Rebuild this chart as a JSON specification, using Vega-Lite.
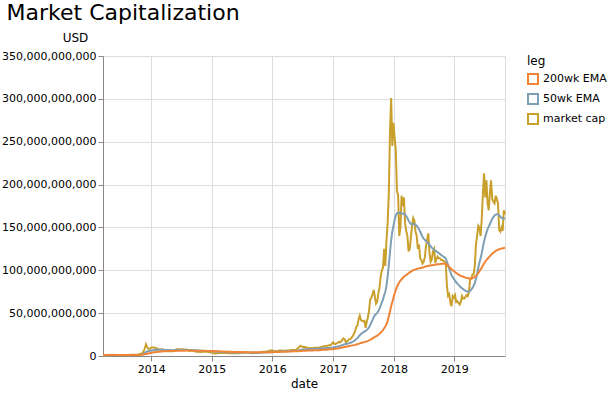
{
  "$schema": "https://vega.github.io/schema/vega-lite/v6.json",
  "width": 402,
  "height": 300,
  "padding": {"left": 1, "top": 2, "right": 5, "bottom": 5},
  "title": {"text": "Market Capitalization", "anchor": "start", "fontSize": 22, "fontWeight": "normal", "color": "#000", "offset": 6, "dx": 5},
  "config": {
    "font": "DejaVu Sans",
    "axis": {"labelFontSize": 11, "titleFontSize": 12, "titleFontWeight": "normal", "labelColor": "#000", "titleColor": "#000"},
    "legend": {"labelFontSize": 11, "titleFontSize": 12, "titleFontWeight": "normal", "labelColor": "#000", "titleColor": "#000"}
  },
  "data": {"values": [
    {"date":"2013-03-17","market cap":0.8,"50wk EMA":1.0,"200wk EMA":1.1},
    {"date":"2013-03-31","market cap":1.0,"50wk EMA":1.0,"200wk EMA":1.1},
    {"date":"2013-04-14","market cap":1.1,"50wk EMA":1.05,"200wk EMA":1.1},
    {"date":"2013-04-28","market cap":1.5,"50wk EMA":1.1,"200wk EMA":1.1},
    {"date":"2013-05-12","market cap":1.3,"50wk EMA":1.15,"200wk EMA":1.1},
    {"date":"2013-05-26","market cap":1.4,"50wk EMA":1.2,"200wk EMA":1.15},
    {"date":"2013-06-09","market cap":1.2,"50wk EMA":1.2,"200wk EMA":1.15},
    {"date":"2013-06-23","market cap":1.1,"50wk EMA":1.2,"200wk EMA":1.15},
    {"date":"2013-07-07","market cap":0.8,"50wk EMA":1.15,"200wk EMA":1.15},
    {"date":"2013-07-21","market cap":1.0,"50wk EMA":1.1,"200wk EMA":1.15},
    {"date":"2013-08-04","market cap":1.1,"50wk EMA":1.1,"200wk EMA":1.15},
    {"date":"2013-08-18","market cap":1.2,"50wk EMA":1.1,"200wk EMA":1.15},
    {"date":"2013-09-01","market cap":1.5,"50wk EMA":1.15,"200wk EMA":1.15},
    {"date":"2013-09-15","market cap":1.5,"50wk EMA":1.2,"200wk EMA":1.2},
    {"date":"2013-09-29","market cap":1.5,"50wk EMA":1.25,"200wk EMA":1.2},
    {"date":"2013-10-13","market cap":1.7,"50wk EMA":1.3,"200wk EMA":1.2},
    {"date":"2013-10-27","market cap":2.3,"50wk EMA":1.45,"200wk EMA":1.3},
    {"date":"2013-11-03","market cap":2.6,"50wk EMA":1.6,"200wk EMA":1.35},
    {"date":"2013-11-10","market cap":3.8,"50wk EMA":1.9,"200wk EMA":1.45},
    {"date":"2013-11-17","market cap":5.5,"50wk EMA":2.4,"200wk EMA":1.6},
    {"date":"2013-11-24","market cap":9.0,"50wk EMA":3.3,"200wk EMA":1.9},
    {"date":"2013-12-01","market cap":13.5,"50wk EMA":4.5,"200wk EMA":2.3},
    {"date":"2013-12-08","market cap":10.5,"50wk EMA":5.2,"200wk EMA":2.6},
    {"date":"2013-12-15","market cap":8.5,"50wk EMA":5.6,"200wk EMA":2.9},
    {"date":"2013-12-22","market cap":8.0,"50wk EMA":5.9,"200wk EMA":3.2},
    {"date":"2013-12-29","market cap":9.2,"50wk EMA":6.2,"200wk EMA":3.5},
    {"date":"2014-01-05","market cap":10.0,"50wk EMA":6.5,"200wk EMA":3.8},
    {"date":"2014-01-19","market cap":10.0,"50wk EMA":7.0,"200wk EMA":4.3},
    {"date":"2014-02-02","market cap":9.0,"50wk EMA":7.2,"200wk EMA":4.7},
    {"date":"2014-02-16","market cap":7.5,"50wk EMA":7.2,"200wk EMA":5.0},
    {"date":"2014-03-02","market cap":7.5,"50wk EMA":7.2,"200wk EMA":5.3},
    {"date":"2014-03-16","market cap":7.5,"50wk EMA":7.2,"200wk EMA":5.5},
    {"date":"2014-03-30","market cap":6.0,"50wk EMA":7.1,"200wk EMA":5.6},
    {"date":"2014-04-13","market cap":5.5,"50wk EMA":7.0,"200wk EMA":5.7},
    {"date":"2014-04-27","market cap":5.8,"50wk EMA":6.9,"200wk EMA":5.8},
    {"date":"2014-05-11","market cap":5.5,"50wk EMA":6.8,"200wk EMA":5.8},
    {"date":"2014-05-25","market cap":7.2,"50wk EMA":6.8,"200wk EMA":5.9},
    {"date":"2014-06-08","market cap":8.0,"50wk EMA":6.9,"200wk EMA":6.0},
    {"date":"2014-06-22","market cap":7.5,"50wk EMA":7.0,"200wk EMA":6.1},
    {"date":"2014-07-06","market cap":8.0,"50wk EMA":7.1,"200wk EMA":6.2},
    {"date":"2014-07-20","market cap":7.5,"50wk EMA":7.1,"200wk EMA":6.2},
    {"date":"2014-08-03","market cap":7.5,"50wk EMA":7.1,"200wk EMA":6.3},
    {"date":"2014-08-17","market cap":6.0,"50wk EMA":7.0,"200wk EMA":6.3},
    {"date":"2014-08-31","market cap":6.3,"50wk EMA":6.9,"200wk EMA":6.3},
    {"date":"2014-09-14","market cap":6.0,"50wk EMA":6.8,"200wk EMA":6.3},
    {"date":"2014-09-28","market cap":5.0,"50wk EMA":6.6,"200wk EMA":6.2},
    {"date":"2014-10-12","market cap":5.0,"50wk EMA":6.4,"200wk EMA":6.2},
    {"date":"2014-10-26","market cap":4.8,"50wk EMA":6.2,"200wk EMA":6.1},
    {"date":"2014-11-09","market cap":4.9,"50wk EMA":6.0,"200wk EMA":6.0},
    {"date":"2014-11-23","market cap":5.3,"50wk EMA":5.9,"200wk EMA":6.0},
    {"date":"2014-12-07","market cap":5.0,"50wk EMA":5.7,"200wk EMA":5.9},
    {"date":"2014-12-21","market cap":4.4,"50wk EMA":5.6,"200wk EMA":5.8},
    {"date":"2015-01-04","market cap":3.8,"50wk EMA":5.4,"200wk EMA":5.7},
    {"date":"2015-01-18","market cap":2.9,"50wk EMA":5.2,"200wk EMA":5.6},
    {"date":"2015-02-01","market cap":3.2,"50wk EMA":5.0,"200wk EMA":5.5},
    {"date":"2015-02-15","market cap":3.4,"50wk EMA":4.8,"200wk EMA":5.4},
    {"date":"2015-03-01","market cap":3.6,"50wk EMA":4.7,"200wk EMA":5.3},
    {"date":"2015-03-15","market cap":3.9,"50wk EMA":4.6,"200wk EMA":5.2},
    {"date":"2015-03-29","market cap":3.4,"50wk EMA":4.5,"200wk EMA":5.1},
    {"date":"2015-04-12","market cap":3.3,"50wk EMA":4.4,"200wk EMA":5.0},
    {"date":"2015-04-26","market cap":3.2,"50wk EMA":4.3,"200wk EMA":4.9},
    {"date":"2015-05-10","market cap":3.4,"50wk EMA":4.2,"200wk EMA":4.8},
    {"date":"2015-05-24","market cap":3.3,"50wk EMA":4.1,"200wk EMA":4.8},
    {"date":"2015-06-07","market cap":3.2,"50wk EMA":4.0,"200wk EMA":4.7},
    {"date":"2015-06-21","market cap":3.5,"50wk EMA":4.0,"200wk EMA":4.6},
    {"date":"2015-07-05","market cap":3.8,"50wk EMA":4.0,"200wk EMA":4.6},
    {"date":"2015-07-19","market cap":4.2,"50wk EMA":4.0,"200wk EMA":4.5},
    {"date":"2015-08-02","market cap":4.2,"50wk EMA":4.0,"200wk EMA":4.5},
    {"date":"2015-08-16","market cap":3.7,"50wk EMA":4.0,"200wk EMA":4.4},
    {"date":"2015-08-30","market cap":3.3,"50wk EMA":3.9,"200wk EMA":4.4},
    {"date":"2015-09-13","market cap":3.4,"50wk EMA":3.9,"200wk EMA":4.3},
    {"date":"2015-09-27","market cap":3.5,"50wk EMA":3.9,"200wk EMA":4.3},
    {"date":"2015-10-11","market cap":3.7,"50wk EMA":3.9,"200wk EMA":4.3},
    {"date":"2015-10-25","market cap":4.3,"50wk EMA":3.9,"200wk EMA":4.3},
    {"date":"2015-11-08","market cap":5.0,"50wk EMA":4.0,"200wk EMA":4.3},
    {"date":"2015-11-22","market cap":4.9,"50wk EMA":4.1,"200wk EMA":4.3},
    {"date":"2015-12-06","market cap":5.6,"50wk EMA":4.3,"200wk EMA":4.4},
    {"date":"2015-12-20","market cap":6.5,"50wk EMA":4.5,"200wk EMA":4.4},
    {"date":"2016-01-03","market cap":6.5,"50wk EMA":4.8,"200wk EMA":4.5},
    {"date":"2016-01-17","market cap":5.6,"50wk EMA":5.0,"200wk EMA":4.6},
    {"date":"2016-01-31","market cap":5.7,"50wk EMA":5.1,"200wk EMA":4.7},
    {"date":"2016-02-14","market cap":6.4,"50wk EMA":5.3,"200wk EMA":4.8},
    {"date":"2016-02-28","market cap":6.3,"50wk EMA":5.4,"200wk EMA":4.9},
    {"date":"2016-03-13","market cap":6.2,"50wk EMA":5.5,"200wk EMA":5.0},
    {"date":"2016-03-27","market cap":6.3,"50wk EMA":5.6,"200wk EMA":5.1},
    {"date":"2016-04-10","market cap":6.5,"50wk EMA":5.7,"200wk EMA":5.2},
    {"date":"2016-04-24","market cap":7.0,"50wk EMA":5.9,"200wk EMA":5.3},
    {"date":"2016-05-08","market cap":7.0,"50wk EMA":6.0,"200wk EMA":5.4},
    {"date":"2016-05-22","market cap":7.2,"50wk EMA":6.2,"200wk EMA":5.5},
    {"date":"2016-06-05","market cap":9.3,"50wk EMA":6.5,"200wk EMA":5.6},
    {"date":"2016-06-19","market cap":12.0,"50wk EMA":7.1,"200wk EMA":5.8},
    {"date":"2016-07-03","market cap":10.5,"50wk EMA":7.5,"200wk EMA":6.0},
    {"date":"2016-07-17","market cap":10.5,"50wk EMA":7.8,"200wk EMA":6.1},
    {"date":"2016-07-31","market cap":9.7,"50wk EMA":8.0,"200wk EMA":6.3},
    {"date":"2016-08-14","market cap":9.2,"50wk EMA":8.1,"200wk EMA":6.4},
    {"date":"2016-08-28","market cap":9.2,"50wk EMA":8.2,"200wk EMA":6.5},
    {"date":"2016-09-11","market cap":9.7,"50wk EMA":8.4,"200wk EMA":6.6},
    {"date":"2016-09-25","market cap":9.6,"50wk EMA":8.5,"200wk EMA":6.7},
    {"date":"2016-10-09","market cap":10.0,"50wk EMA":8.6,"200wk EMA":6.8},
    {"date":"2016-10-23","market cap":10.5,"50wk EMA":8.8,"200wk EMA":7.0},
    {"date":"2016-11-06","market cap":11.5,"50wk EMA":9.0,"200wk EMA":7.2},
    {"date":"2016-11-20","market cap":11.6,"50wk EMA":9.2,"200wk EMA":7.4},
    {"date":"2016-12-04","market cap":12.2,"50wk EMA":9.4,"200wk EMA":7.6},
    {"date":"2016-12-18","market cap":12.8,"50wk EMA":9.6,"200wk EMA":7.8},
    {"date":"2017-01-01","market cap":16.0,"50wk EMA":9.9,"200wk EMA":8.0},
    {"date":"2017-01-08","market cap":14.5,"50wk EMA":10.2,"200wk EMA":8.2},
    {"date":"2017-01-15","market cap":13.8,"50wk EMA":10.5,"200wk EMA":8.4},
    {"date":"2017-01-22","market cap":14.8,"50wk EMA":10.8,"200wk EMA":8.6},
    {"date":"2017-01-29","market cap":15.2,"50wk EMA":11.1,"200wk EMA":8.8},
    {"date":"2017-02-05","market cap":16.5,"50wk EMA":11.4,"200wk EMA":9.1},
    {"date":"2017-02-12","market cap":16.0,"50wk EMA":11.8,"200wk EMA":9.4},
    {"date":"2017-02-19","market cap":17.0,"50wk EMA":12.2,"200wk EMA":9.7},
    {"date":"2017-02-26","market cap":19.0,"50wk EMA":12.7,"200wk EMA":10.0},
    {"date":"2017-03-05","market cap":20.5,"50wk EMA":13.2,"200wk EMA":10.3},
    {"date":"2017-03-12","market cap":19.5,"50wk EMA":13.6,"200wk EMA":10.6},
    {"date":"2017-03-19","market cap":16.0,"50wk EMA":13.9,"200wk EMA":10.9},
    {"date":"2017-03-26","market cap":17.0,"50wk EMA":14.2,"200wk EMA":11.1},
    {"date":"2017-04-02","market cap":18.5,"50wk EMA":14.6,"200wk EMA":11.4},
    {"date":"2017-04-09","market cap":19.5,"50wk EMA":15.0,"200wk EMA":11.6},
    {"date":"2017-04-16","market cap":19.8,"50wk EMA":15.5,"200wk EMA":11.9},
    {"date":"2017-04-23","market cap":21.5,"50wk EMA":16.0,"200wk EMA":12.1},
    {"date":"2017-04-30","market cap":23.5,"50wk EMA":16.7,"200wk EMA":12.4},
    {"date":"2017-05-07","market cap":26.0,"50wk EMA":17.5,"200wk EMA":12.7},
    {"date":"2017-05-14","market cap":29.0,"50wk EMA":18.5,"200wk EMA":13.0},
    {"date":"2017-05-21","market cap":34.0,"50wk EMA":19.7,"200wk EMA":13.4},
    {"date":"2017-05-28","market cap":35.5,"50wk EMA":21.0,"200wk EMA":13.8},
    {"date":"2017-06-04","market cap":43.0,"50wk EMA":22.5,"200wk EMA":14.2},
    {"date":"2017-06-11","market cap":47.0,"50wk EMA":24.2,"200wk EMA":14.7},
    {"date":"2017-06-18","market cap":42.0,"50wk EMA":25.6,"200wk EMA":15.1},
    {"date":"2017-06-25","market cap":41.0,"50wk EMA":26.7,"200wk EMA":15.5},
    {"date":"2017-07-02","market cap":40.5,"50wk EMA":27.7,"200wk EMA":15.9},
    {"date":"2017-07-09","market cap":41.0,"50wk EMA":28.6,"200wk EMA":16.3},
    {"date":"2017-07-16","market cap":33.0,"50wk EMA":29.2,"200wk EMA":16.7},
    {"date":"2017-07-23","market cap":40.0,"50wk EMA":30.3,"200wk EMA":17.1},
    {"date":"2017-07-30","market cap":45.0,"50wk EMA":31.6,"200wk EMA":17.6},
    {"date":"2017-08-06","market cap":53.0,"50wk EMA":33.5,"200wk EMA":18.2},
    {"date":"2017-08-13","market cap":66.0,"50wk EMA":36.3,"200wk EMA":18.9},
    {"date":"2017-08-20","market cap":68.0,"50wk EMA":39.2,"200wk EMA":19.7},
    {"date":"2017-08-27","market cap":72.0,"50wk EMA":42.2,"200wk EMA":20.5},
    {"date":"2017-09-03","market cap":77.0,"50wk EMA":45.4,"200wk EMA":21.4},
    {"date":"2017-09-10","market cap":69.0,"50wk EMA":47.6,"200wk EMA":22.2},
    {"date":"2017-09-17","market cap":61.0,"50wk EMA":48.9,"200wk EMA":23.0},
    {"date":"2017-09-24","market cap":63.0,"50wk EMA":50.3,"200wk EMA":23.8},
    {"date":"2017-10-01","market cap":73.0,"50wk EMA":52.5,"200wk EMA":24.8},
    {"date":"2017-10-08","market cap":80.0,"50wk EMA":55.2,"200wk EMA":25.9},
    {"date":"2017-10-15","market cap":93.0,"50wk EMA":58.8,"200wk EMA":27.2},
    {"date":"2017-10-22","market cap":100.0,"50wk EMA":62.5,"200wk EMA":28.7},
    {"date":"2017-10-29","market cap":103.0,"50wk EMA":66.0,"200wk EMA":30.3},
    {"date":"2017-11-05","market cap":125.0,"50wk EMA":71.0,"200wk EMA":32.3},
    {"date":"2017-11-12","market cap":105.0,"50wk EMA":75.0,"200wk EMA":34.3},
    {"date":"2017-11-19","market cap":135.0,"50wk EMA":82.0,"200wk EMA":37.0},
    {"date":"2017-11-26","market cap":155.0,"50wk EMA":93.0,"200wk EMA":41.0},
    {"date":"2017-12-03","market cap":190.0,"50wk EMA":106.0,"200wk EMA":46.0},
    {"date":"2017-12-10","market cap":260.0,"50wk EMA":121.0,"200wk EMA":52.0},
    {"date":"2017-12-17","market cap":301.0,"50wk EMA":135.0,"200wk EMA":58.0},
    {"date":"2017-12-24","market cap":245.0,"50wk EMA":145.0,"200wk EMA":63.0},
    {"date":"2017-12-31","market cap":272.0,"50wk EMA":152.0,"200wk EMA":68.0},
    {"date":"2018-01-07","market cap":255.0,"50wk EMA":159.0,"200wk EMA":73.0},
    {"date":"2018-01-14","market cap":240.0,"50wk EMA":164.0,"200wk EMA":77.0},
    {"date":"2018-01-21","market cap":192.0,"50wk EMA":166.5,"200wk EMA":80.5},
    {"date":"2018-01-28","market cap":188.0,"50wk EMA":167.0,"200wk EMA":83.5},
    {"date":"2018-02-04","market cap":140.0,"50wk EMA":167.0,"200wk EMA":86.0},
    {"date":"2018-02-11","market cap":150.0,"50wk EMA":166.5,"200wk EMA":88.0},
    {"date":"2018-02-18","market cap":187.0,"50wk EMA":166.5,"200wk EMA":89.5},
    {"date":"2018-02-25","market cap":175.0,"50wk EMA":166.0,"200wk EMA":91.0},
    {"date":"2018-03-04","market cap":185.0,"50wk EMA":166.0,"200wk EMA":92.5},
    {"date":"2018-03-11","market cap":155.0,"50wk EMA":165.0,"200wk EMA":93.5},
    {"date":"2018-03-18","market cap":146.0,"50wk EMA":163.0,"200wk EMA":94.5},
    {"date":"2018-03-25","market cap":140.0,"50wk EMA":161.0,"200wk EMA":95.5},
    {"date":"2018-04-01","market cap":122.0,"50wk EMA":158.0,"200wk EMA":96.5},
    {"date":"2018-04-08","market cap":125.0,"50wk EMA":155.5,"200wk EMA":97.5},
    {"date":"2018-04-15","market cap":138.0,"50wk EMA":154.0,"200wk EMA":98.5},
    {"date":"2018-04-22","market cap":152.0,"50wk EMA":153.5,"200wk EMA":99.5},
    {"date":"2018-04-29","market cap":161.0,"50wk EMA":154.0,"200wk EMA":100.0},
    {"date":"2018-05-06","market cap":158.0,"50wk EMA":154.0,"200wk EMA":100.5},
    {"date":"2018-05-13","market cap":145.0,"50wk EMA":153.0,"200wk EMA":101.0},
    {"date":"2018-05-20","market cap":140.0,"50wk EMA":152.0,"200wk EMA":101.5},
    {"date":"2018-05-27","market cap":125.0,"50wk EMA":150.0,"200wk EMA":102.0},
    {"date":"2018-06-03","market cap":130.0,"50wk EMA":148.0,"200wk EMA":102.5},
    {"date":"2018-06-10","market cap":114.0,"50wk EMA":145.0,"200wk EMA":102.5},
    {"date":"2018-06-17","market cap":112.0,"50wk EMA":142.0,"200wk EMA":103.0},
    {"date":"2018-06-24","market cap":108.0,"50wk EMA":139.0,"200wk EMA":103.0},
    {"date":"2018-07-01","market cap":110.0,"50wk EMA":137.0,"200wk EMA":103.5},
    {"date":"2018-07-08","market cap":115.0,"50wk EMA":135.5,"200wk EMA":104.0},
    {"date":"2018-07-15","market cap":128.0,"50wk EMA":134.0,"200wk EMA":104.5},
    {"date":"2018-07-22","market cap":136.0,"50wk EMA":132.5,"200wk EMA":105.0},
    {"date":"2018-07-29","market cap":143.0,"50wk EMA":131.5,"200wk EMA":105.0},
    {"date":"2018-08-05","market cap":120.0,"50wk EMA":130.0,"200wk EMA":105.5},
    {"date":"2018-08-12","market cap":110.0,"50wk EMA":128.0,"200wk EMA":105.5},
    {"date":"2018-08-19","market cap":113.0,"50wk EMA":126.5,"200wk EMA":106.0},
    {"date":"2018-08-26","market cap":122.0,"50wk EMA":125.0,"200wk EMA":106.0},
    {"date":"2018-09-02","market cap":125.0,"50wk EMA":124.0,"200wk EMA":106.5},
    {"date":"2018-09-09","market cap":109.0,"50wk EMA":123.0,"200wk EMA":106.5},
    {"date":"2018-09-16","market cap":113.0,"50wk EMA":122.0,"200wk EMA":107.0},
    {"date":"2018-09-23","market cap":116.0,"50wk EMA":121.0,"200wk EMA":107.0},
    {"date":"2018-09-30","market cap":114.0,"50wk EMA":120.0,"200wk EMA":107.0},
    {"date":"2018-10-07","market cap":114.0,"50wk EMA":119.0,"200wk EMA":107.0},
    {"date":"2018-10-14","market cap":112.0,"50wk EMA":118.0,"200wk EMA":107.5},
    {"date":"2018-10-21","market cap":112.0,"50wk EMA":117.0,"200wk EMA":107.5},
    {"date":"2018-10-28","market cap":111.0,"50wk EMA":116.0,"200wk EMA":107.5},
    {"date":"2018-11-04","market cap":110.0,"50wk EMA":115.0,"200wk EMA":107.5},
    {"date":"2018-11-11","market cap":108.0,"50wk EMA":114.0,"200wk EMA":107.5},
    {"date":"2018-11-18","market cap":82.0,"50wk EMA":110.0,"200wk EMA":106.5},
    {"date":"2018-11-25","market cap":70.0,"50wk EMA":106.0,"200wk EMA":105.0},
    {"date":"2018-12-02","market cap":72.0,"50wk EMA":102.0,"200wk EMA":104.0},
    {"date":"2018-12-09","market cap":62.0,"50wk EMA":98.0,"200wk EMA":102.5},
    {"date":"2018-12-16","market cap":58.0,"50wk EMA":94.0,"200wk EMA":101.0},
    {"date":"2018-12-23","market cap":70.0,"50wk EMA":92.0,"200wk EMA":100.0},
    {"date":"2018-12-30","market cap":68.0,"50wk EMA":90.0,"200wk EMA":99.0},
    {"date":"2019-01-06","market cap":71.0,"50wk EMA":88.0,"200wk EMA":98.0},
    {"date":"2019-01-13","market cap":63.0,"50wk EMA":86.0,"200wk EMA":97.0},
    {"date":"2019-01-20","market cap":64.0,"50wk EMA":84.5,"200wk EMA":96.0},
    {"date":"2019-01-27","market cap":62.0,"50wk EMA":83.0,"200wk EMA":95.0},
    {"date":"2019-02-03","market cap":60.0,"50wk EMA":81.5,"200wk EMA":94.0},
    {"date":"2019-02-10","market cap":63.0,"50wk EMA":80.0,"200wk EMA":93.5},
    {"date":"2019-02-17","market cap":70.0,"50wk EMA":79.0,"200wk EMA":93.0},
    {"date":"2019-02-24","market cap":67.0,"50wk EMA":78.0,"200wk EMA":92.5},
    {"date":"2019-03-03","market cap":67.0,"50wk EMA":77.0,"200wk EMA":92.0},
    {"date":"2019-03-10","market cap":69.0,"50wk EMA":76.0,"200wk EMA":91.5},
    {"date":"2019-03-17","market cap":71.0,"50wk EMA":75.5,"200wk EMA":91.0},
    {"date":"2019-03-24","market cap":70.0,"50wk EMA":75.0,"200wk EMA":91.0},
    {"date":"2019-03-31","market cap":75.0,"50wk EMA":75.0,"200wk EMA":90.5},
    {"date":"2019-04-07","market cap":90.0,"50wk EMA":76.0,"200wk EMA":90.5},
    {"date":"2019-04-14","market cap":90.0,"50wk EMA":77.5,"200wk EMA":90.5},
    {"date":"2019-04-21","market cap":95.0,"50wk EMA":79.5,"200wk EMA":91.0},
    {"date":"2019-04-28","market cap":95.0,"50wk EMA":82.0,"200wk EMA":91.5},
    {"date":"2019-05-05","market cap":105.0,"50wk EMA":85.0,"200wk EMA":92.0},
    {"date":"2019-05-12","market cap":130.0,"50wk EMA":90.0,"200wk EMA":93.5},
    {"date":"2019-05-19","market cap":140.0,"50wk EMA":96.0,"200wk EMA":95.0},
    {"date":"2019-05-26","market cap":152.0,"50wk EMA":103.0,"200wk EMA":97.0},
    {"date":"2019-06-02","market cap":150.0,"50wk EMA":109.0,"200wk EMA":99.0},
    {"date":"2019-06-09","market cap":140.0,"50wk EMA":114.0,"200wk EMA":101.0},
    {"date":"2019-06-16","market cap":160.0,"50wk EMA":120.0,"200wk EMA":103.0},
    {"date":"2019-06-23","market cap":190.0,"50wk EMA":127.0,"200wk EMA":105.5},
    {"date":"2019-06-30","market cap":213.0,"50wk EMA":134.0,"200wk EMA":108.0},
    {"date":"2019-07-07","market cap":185.0,"50wk EMA":139.0,"200wk EMA":110.0},
    {"date":"2019-07-14","market cap":205.0,"50wk EMA":144.0,"200wk EMA":112.0},
    {"date":"2019-07-21","market cap":178.0,"50wk EMA":148.0,"200wk EMA":113.5},
    {"date":"2019-07-28","market cap":170.0,"50wk EMA":151.0,"200wk EMA":115.0},
    {"date":"2019-08-04","market cap":190.0,"50wk EMA":154.0,"200wk EMA":116.5},
    {"date":"2019-08-11","market cap":205.0,"50wk EMA":157.0,"200wk EMA":118.0},
    {"date":"2019-08-18","market cap":183.0,"50wk EMA":160.0,"200wk EMA":119.5},
    {"date":"2019-08-25","market cap":180.0,"50wk EMA":162.0,"200wk EMA":120.5},
    {"date":"2019-09-01","market cap":178.0,"50wk EMA":164.0,"200wk EMA":121.5},
    {"date":"2019-09-08","market cap":187.0,"50wk EMA":165.0,"200wk EMA":122.5},
    {"date":"2019-09-15","market cap":183.0,"50wk EMA":165.5,"200wk EMA":123.5},
    {"date":"2019-09-22","market cap":178.0,"50wk EMA":165.5,"200wk EMA":124.0},
    {"date":"2019-09-29","market cap":147.0,"50wk EMA":164.0,"200wk EMA":124.5},
    {"date":"2019-10-06","market cap":145.0,"50wk EMA":162.5,"200wk EMA":125.0},
    {"date":"2019-10-13","market cap":150.0,"50wk EMA":161.5,"200wk EMA":125.5},
    {"date":"2019-10-20","market cap":146.0,"50wk EMA":160.5,"200wk EMA":125.5},
    {"date":"2019-10-27","market cap":170.0,"50wk EMA":160.5,"200wk EMA":126.0},
    {"date":"2019-11-03","market cap":165.0,"50wk EMA":160.0,"200wk EMA":126.5}
  ]},
  "transform": [
    {"fold": ["market cap", "50wk EMA", "200wk EMA"], "as": ["leg", "usd"]}
  ],
  "mark": {"type": "line", "strokeWidth": 2},
  "encoding": {
    "x": {
      "field": "date", "type": "temporal", "title": "date",
      "scale": {"nice": false},
      "axis": {"format": "%Y", "tickCount": {"interval": "year", "step": 1}}
    },
    "y": {
      "field": "usd", "type": "quantitative",
      "scale": {"domain": [0, 350]},
      "axis": {
        "title": "USD", "titleAngle": 0, "titleAlign": "center", "titleBaseline": "bottom",
        "titleX": -28, "titleY": -12,
        "values": [0, 50, 100, 150, 200, 250, 300, 350],
        "labelExpr": "format(datum.value * 1000000000, ',')"
      }
    },
    "color": {
      "field": "leg", "type": "nominal",
      "scale": {"domain": ["200wk EMA", "50wk EMA", "market cap"], "range": ["#ef8437", "#7f9fb5", "#c9a02c"]},
      "legend": {"symbolType": "square", "symbolStrokeWidth": 2, "symbolSize": 100}
    }
  }
}
